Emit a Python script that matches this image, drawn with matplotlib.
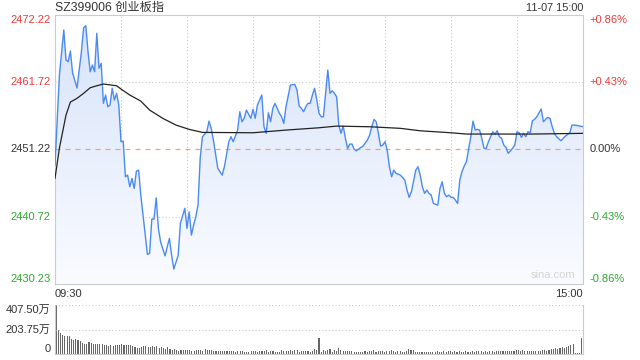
import matplotlib
matplotlib.use("Agg")
import matplotlib.pyplot as plt
import matplotlib.transforms as mtransforms
import numpy as np

# intraday minutes since 09:30 (0..240) and index level
price_min = [0, 2, 4, 5, 6, 7, 8, 10, 12, 13, 14, 15, 16, 17, 18, 19, 20, 21, 22, 23,
             24, 25, 26, 27, 28, 29, 30, 31, 32, 33, 34, 35, 36, 37, 38, 39, 40, 42, 43, 44,
             45, 46, 47, 48, 50, 52, 53, 54, 56, 57, 59, 60, 61, 62, 63, 64, 65, 66, 67, 69,
             70, 71, 72, 74, 76, 77, 79, 80, 81, 83, 84, 85, 86, 87, 89, 90, 91, 92, 93, 94,
             95, 96, 97, 98, 99, 100, 102, 103, 104, 105, 107, 109, 110, 111, 112, 113, 114, 115, 116, 117,
             118, 119, 120, 121, 122, 123, 124, 125, 126, 127, 128, 129, 130, 131, 132, 133, 134, 135, 136, 137,
             139, 140, 142, 143, 144, 145, 146, 147, 148, 149, 150, 151, 152, 153, 154, 155, 157, 159, 160, 161,
             162, 164, 165, 166, 167, 168, 169, 170, 171, 172, 174, 175, 176, 177, 178, 179, 180, 181, 182, 183,
             184, 185, 186, 187, 188, 189, 190, 191, 192, 193, 194, 195, 196, 197, 198, 199, 200, 201, 202, 203,
             204, 205, 206, 207, 208, 209, 210, 211, 212, 213, 214, 215, 216, 217, 218, 219, 221, 222, 223, 224,
             225, 226, 227, 228, 230, 231, 232, 234, 235, 236, 238, 240]
price = [2448.77, 2462.81, 2469.83, 2465.15, 2464.89, 2466.55, 2463.12, 2460.78, 2466.45, 2470.19,
         2470.50, 2466.45, 2463.33, 2464.37, 2463.33, 2469.32, 2463.86, 2464.64, 2458.40, 2459.69,
         2457.87, 2458.13, 2460.74, 2458.91, 2459.96, 2458.13, 2452.41, 2452.51, 2446.95, 2447.21,
         2445.39, 2446.70, 2445.14, 2447.83, 2447.99, 2444.09, 2440.97, 2434.84, 2435.00, 2440.35,
         2440.35, 2443.67, 2438.90, 2436.81, 2434.62, 2437.34, 2434.73, 2432.55, 2434.73, 2439.68,
         2442.02, 2438.90, 2441.49, 2437.85, 2439.41, 2440.71, 2442.53, 2449.82, 2453.19, 2453.97,
         2455.63, 2454.50, 2452.67, 2448.26, 2447.21, 2448.51, 2452.41, 2453.19, 2452.41, 2454.23,
         2457.09, 2455.53, 2456.06, 2457.35, 2456.06, 2457.46, 2456.06, 2458.13, 2458.91, 2459.69,
         2454.75, 2453.72, 2456.93, 2455.53, 2457.62, 2458.40, 2456.84, 2456.31, 2455.28, 2457.87,
         2461.25, 2461.36, 2460.47, 2457.97, 2457.62, 2457.09, 2457.87, 2458.40, 2458.40, 2459.69,
         2460.74, 2458.91, 2456.84, 2456.31, 2456.31, 2459.96, 2463.59, 2459.96, 2460.36, 2459.96,
         2459.43, 2455.01, 2453.72, 2454.85, 2452.94, 2451.38, 2452.05, 2452.05, 2451.22, 2451.00,
         2451.53, 2451.73, 2452.67, 2453.45, 2454.75, 2455.90, 2455.53, 2453.72, 2451.73, 2451.89,
         2452.41, 2451.11, 2448.51, 2446.95, 2447.99, 2447.48, 2447.21, 2446.43, 2444.87, 2443.73,
         2444.61, 2447.99, 2448.51, 2447.21, 2445.39, 2444.36, 2444.87, 2444.36, 2444.09, 2442.80,
         2442.53, 2445.14, 2446.17, 2444.36, 2443.83, 2444.09, 2443.73, 2443.73, 2443.31, 2442.80,
         2446.43, 2447.73, 2448.61, 2449.29, 2451.22, 2453.19, 2455.63, 2454.23, 2454.34, 2454.23,
         2452.94, 2451.38, 2451.38, 2452.41, 2453.19, 2453.97, 2453.61, 2454.12, 2453.19, 2452.94,
         2451.89, 2451.53, 2450.60, 2451.00, 2451.38, 2451.89, 2453.97, 2453.81, 2453.09, 2453.72,
         2453.19, 2453.97, 2453.81, 2455.68, 2455.90, 2456.31, 2457.51, 2455.53, 2455.90, 2456.21,
         2456.06, 2454.75, 2453.72, 2453.19, 2452.56, 2452.94, 2453.29, 2453.81, 2455.01, 2455.01,
         2454.90, 2454.75]

avg_min = [0, 2, 5, 7, 10, 13, 16, 19, 22, 28, 30, 34, 39, 43, 49, 55, 61, 67, 75, 90,
           105, 120, 128, 143, 157, 166, 180, 187, 202, 217, 240]
avg_price = [2446.70, 2451.42, 2456.57, 2458.60, 2459.18, 2459.96, 2460.83, 2461.14, 2461.41, 2461.14,
             2460.63, 2459.69, 2458.75, 2457.35, 2456.06, 2455.01, 2454.34, 2453.87, 2453.85, 2453.81,
             2454.23, 2454.59, 2454.85, 2454.75, 2454.50, 2454.12, 2453.81, 2453.61, 2453.61, 2453.61,
             2453.72]

# volume per minute, in 万
volume = [407.5, 200, 173, 160, 146, 151, 151, 127, 118, 124,
          118, 110, 91, 85, 85, 96, 91, 85, 85, 85,
          85, 85, 77, 72, 63, 72, 69, 72, 72, 72,
          85, 72, 77, 77, 77, 69, 58, 50, 50, 58,
          63, 69, 58, 58, 63, 55, 63, 50, 55, 50,
          44, 55, 44, 36, 44, 36, 22, 30, 36, 30,
          30, 36, 22, 28, 36, 30, 30, 22, 44, 36,
          36, 36, 22, 28, 28, 28, 28, 28, 28, 28, 28, 28,
          17, 28, 28, 28, 17, 17, 17, 22, 28, 28,
          17, 28, 28, 22, 36, 17, 28, 28, 17, 17,
          17, 36, 28, 28, 28, 36, 28, 36, 36, 17,
          28, 28, 28, 28, 17, 28, 44, 36,
          137,
          17, 36, 28, 36, 44, 17, 36, 28, 50, 36,
          28, 28, 28, 28, 28, 17, 17, 17, 17, 17,
          22, 17, 22, 28, 36, 17, 28, 22, 28, 17,
          22, 28, 36, 28, 17, 22, 28, 17, 17, 22,
          41, 30, 30, 17, 17, 17, 17, 17, 17, 17,
          17, 17, 17, 28, 17, 17, 28, 17, 22, 28,
          17, 22, 17, 28, 17, 17, 28, 17, 17, 22,
          17, 28, 22, 22, 17, 22, 17, 22, 28, 17,
          22, 28, 22, 28, 22, 28, 28, 22, 28, 36,
          36, 28, 36, 28, 28, 28, 28, 28, 28, 28,
          22, 36, 36, 28, 36, 44, 44, 50, 44, 50,
          55, 50, 55, 63, 72, 85, 8, 8, 8, 137]

prev_close = 2451.22
ylevels = [2472.22, 2461.72, 2451.22, 2440.72, 2430.23]
pct_labels = ['+0.86%', '+0.43%', '0.00%', '-0.43%', '-0.86%']
vol_ticks = [407.5, 203.75, 0]
vol_labels = ['407.50万', '203.75万', '0']

FONT = ['Liberation Sans', 'Noto Sans CJK SC', 'DejaVu Sans']
plt.rcParams['font.family'] = FONT
RED, GREEN, DARK = '#ec3b3b', '#2fa82f', '#333333'
GRID = '#c8c8c8'

fig = plt.figure(figsize=(6.4, 3.6), dpi=100)
ax = fig.add_axes([55 / 640, 1 - 284 / 360, 528 / 640, 269.3 / 360])
vax = fig.add_axes([55 / 640, 1 - 354 / 360, 528 / 640, 49 / 360])

ymin, ymax = ylevels[-1], ylevels[0]
ax.set_xlim(0, 240)
ax.set_ylim(ymin, ymax)

# gradient fill under the price line
poly = ax.fill_between(price_min, price, ymin, color='none', lw=0)
grad = np.linspace(0, 1, 256).reshape(-1, 1)
top_c = np.array([0.84, 0.89, 0.98])
bot_c = np.array([0.98, 0.985, 1.0])
img = top_c + (bot_c - top_c) * grad
im = ax.imshow(img[:, None, :].repeat(2, axis=1), extent=[0, 240, ymin, ymax],
               aspect='auto', origin='upper', zorder=1)
im.set_clip_path(poly.get_paths()[0], transform=ax.transData)

ax.plot(price_min, price, color='#4a8af4', lw=1.0, zorder=3)
ax.plot(avg_min, avg_price, color='#222222', lw=0.9, zorder=4)

for m in range(30, 240, 30):
    ax.axvline(m, color=GRID, lw=0.8, ls=(0, (1, 2)), zorder=0)
for lv in (ylevels[1], ylevels[3]):
    ax.axhline(lv, color=GRID, lw=0.8, ls=(0, (1, 2)), zorder=0)
ax.axhline(prev_close, color='#f2a27a', lw=0.9, ls=(0, (4, 4)), zorder=2)

for sp in ax.spines.values():
    sp.set_color('#cccccc')
    sp.set_linewidth(0.8)
ax.set_xticks([])
ax.set_yticks([])

trans = mtransforms.blended_transform_factory(ax.transAxes, ax.transData)
colors = [RED, RED, DARK, GREEN, GREEN]
vas = ['top', 'center', 'center', 'center', 'bottom']
for lv, pl, c, va in zip(ylevels, pct_labels, colors, vas):
    ax.text(-0.008, lv, f'{lv:.2f}', transform=trans, ha='right', va=va,
            color=c, fontsize=8)
    ax.text(1.013, lv, pl, transform=trans, ha='left', va=va, color=c, fontsize=8)

ax.text(0.985, 0.015, 'sina.com', transform=ax.transAxes, ha='right', va='bottom',
        color='#d4d4d4', fontsize=8)

# volume panel
vax.set_xlim(-0.5, 240.5)
vax.set_ylim(0, 407.5)
vax.bar(range(len(volume)), volume, width=0.5, color='#666666', lw=0)
vax.axhline(203.75, color=GRID, lw=0.8, ls=(0, (1, 2)))
vax.axhline(407.5, color=GRID, lw=0.8, ls=(0, (1, 2)))
vax.set_xticks([])
vax.set_yticks([])
for name, sp in vax.spines.items():
    sp.set_color('#cccccc')
    sp.set_linewidth(0.8)
vax.spines['top'].set_visible(False)
vtrans = mtransforms.blended_transform_factory(vax.transAxes, vax.transData)
for v, lab, va in zip(vol_ticks, vol_labels, ['top', 'center', 'bottom']):
    vax.text(-0.008, v, lab, transform=vtrans, ha='right', va=va, color=DARK, fontsize=8)

fig.text(55 / 640, 1 - 8 / 360, 'SZ399006 创业板指', ha='left', va='center',
         color=DARK, fontsize=8.8)
fig.text(583 / 640, 1 - 8 / 360, '11-07 15:00', ha='right', va='center',
         color=DARK, fontsize=7.8)
fig.text(55 / 640, 1 - 294 / 360, '09:30', ha='left', va='center', color=DARK, fontsize=8)
fig.text(583 / 640, 1 - 294 / 360, '15:00', ha='right', va='center', color=DARK, fontsize=8)

fig.savefig('out.png', dpi=100, facecolor='white')
